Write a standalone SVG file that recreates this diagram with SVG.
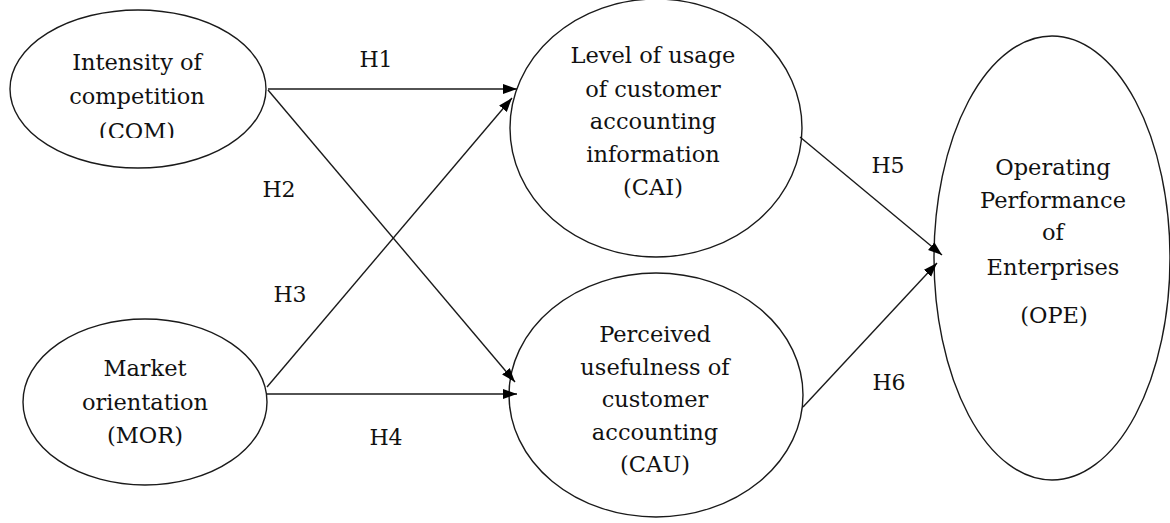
<svg xmlns="http://www.w3.org/2000/svg" width="1170" height="523" viewBox="0 0 1170 523">
<style>
  .node ellipse { fill: #ffffff; stroke: #1a1a1a; stroke-width: 1.4; }
  .t { font-family: 'DejaVu Serif', 'Liberation Serif', serif; font-size: 22.5px; fill: #111; text-anchor: middle; }
  .h { font-family: 'DejaVu Serif', 'Liberation Serif', serif; font-size: 22px; fill: #111; text-anchor: middle; }
  .edge { stroke: #1a1a1a; stroke-width: 1.4; fill: none; marker-end: url(#arr); }
</style>
<defs>
  <marker id="arr" markerUnits="userSpaceOnUse" markerWidth="15" markerHeight="11" refX="14" refY="5" orient="auto">
    <path d="M0,0 L14,5 L0,10 z" fill="#000"/>
  </marker>
  <clipPath id="clipCOM"><rect x="0" y="0" width="300" height="138"/></clipPath>
</defs>
<rect width="1170" height="523" fill="#ffffff"/>

<g id="COM" class="node">
  <ellipse cx="138" cy="89" rx="128" ry="79"/>
  <g clip-path="url(#clipCOM)">
    <text class="t" x="137" y="70">Intensity of</text>
    <text class="t" x="137" y="104">competition</text>
    <text class="t" x="137" y="139">(COM)</text>
  </g>
</g>

<g id="MOR" class="node">
  <ellipse cx="145" cy="402" rx="122" ry="83"/>
  <text class="t" x="145" y="376">Market</text>
  <text class="t" x="145" y="410">orientation</text>
  <text class="t" x="145" y="443">(MOR)</text>
</g>

<g id="CAI" class="node">
  <ellipse cx="656" cy="128" rx="146" ry="129"/>
  <text class="t" x="653" y="63">Level of usage</text>
  <text class="t" x="653" y="97">of customer</text>
  <text class="t" x="653" y="129">accounting</text>
  <text class="t" x="653" y="162">information</text>
  <text class="t" x="653" y="195">(CAI)</text>
</g>

<g id="CAU" class="node">
  <ellipse cx="656" cy="395" rx="147" ry="122"/>
  <text class="t" x="655" y="342">Perceived</text>
  <text class="t" x="655" y="375">usefulness of</text>
  <text class="t" x="655" y="407">customer</text>
  <text class="t" x="655" y="440">accounting</text>
  <text class="t" x="655" y="472">(CAU)</text>
</g>

<g id="OPE" class="node">
  <ellipse cx="1052" cy="258" rx="118" ry="222"/>
  <text class="t" x="1053" y="175">Operating</text>
  <text class="t" x="1053" y="208">Performance</text>
  <text class="t" x="1053" y="240">of</text>
  <text class="t" x="1053" y="275">Enterprises</text>
  <text class="t" x="1054" y="323">(OPE)</text>
</g>

<g id="connectors">
  <line class="edge" x1="268" y1="89" x2="517" y2="89"/>
  <line class="edge" x1="268" y1="90" x2="515" y2="382"/>
  <line class="edge" x1="267" y1="387" x2="512" y2="98"/>
  <line class="edge" x1="267" y1="394" x2="517" y2="394"/>
  <line class="edge" x1="800" y1="137" x2="942" y2="255"/>
  <line class="edge" x1="803" y1="407" x2="937" y2="263"/>
</g>

<g id="labels">
  <text class="h" x="376" y="67">H1</text>
  <text class="h" x="279" y="197">H2</text>
  <text class="h" x="290" y="302">H3</text>
  <text class="h" x="386" y="445">H4</text>
  <text class="h" x="888" y="173">H5</text>
  <text class="h" x="889" y="390">H6</text>
</g>
</svg>
